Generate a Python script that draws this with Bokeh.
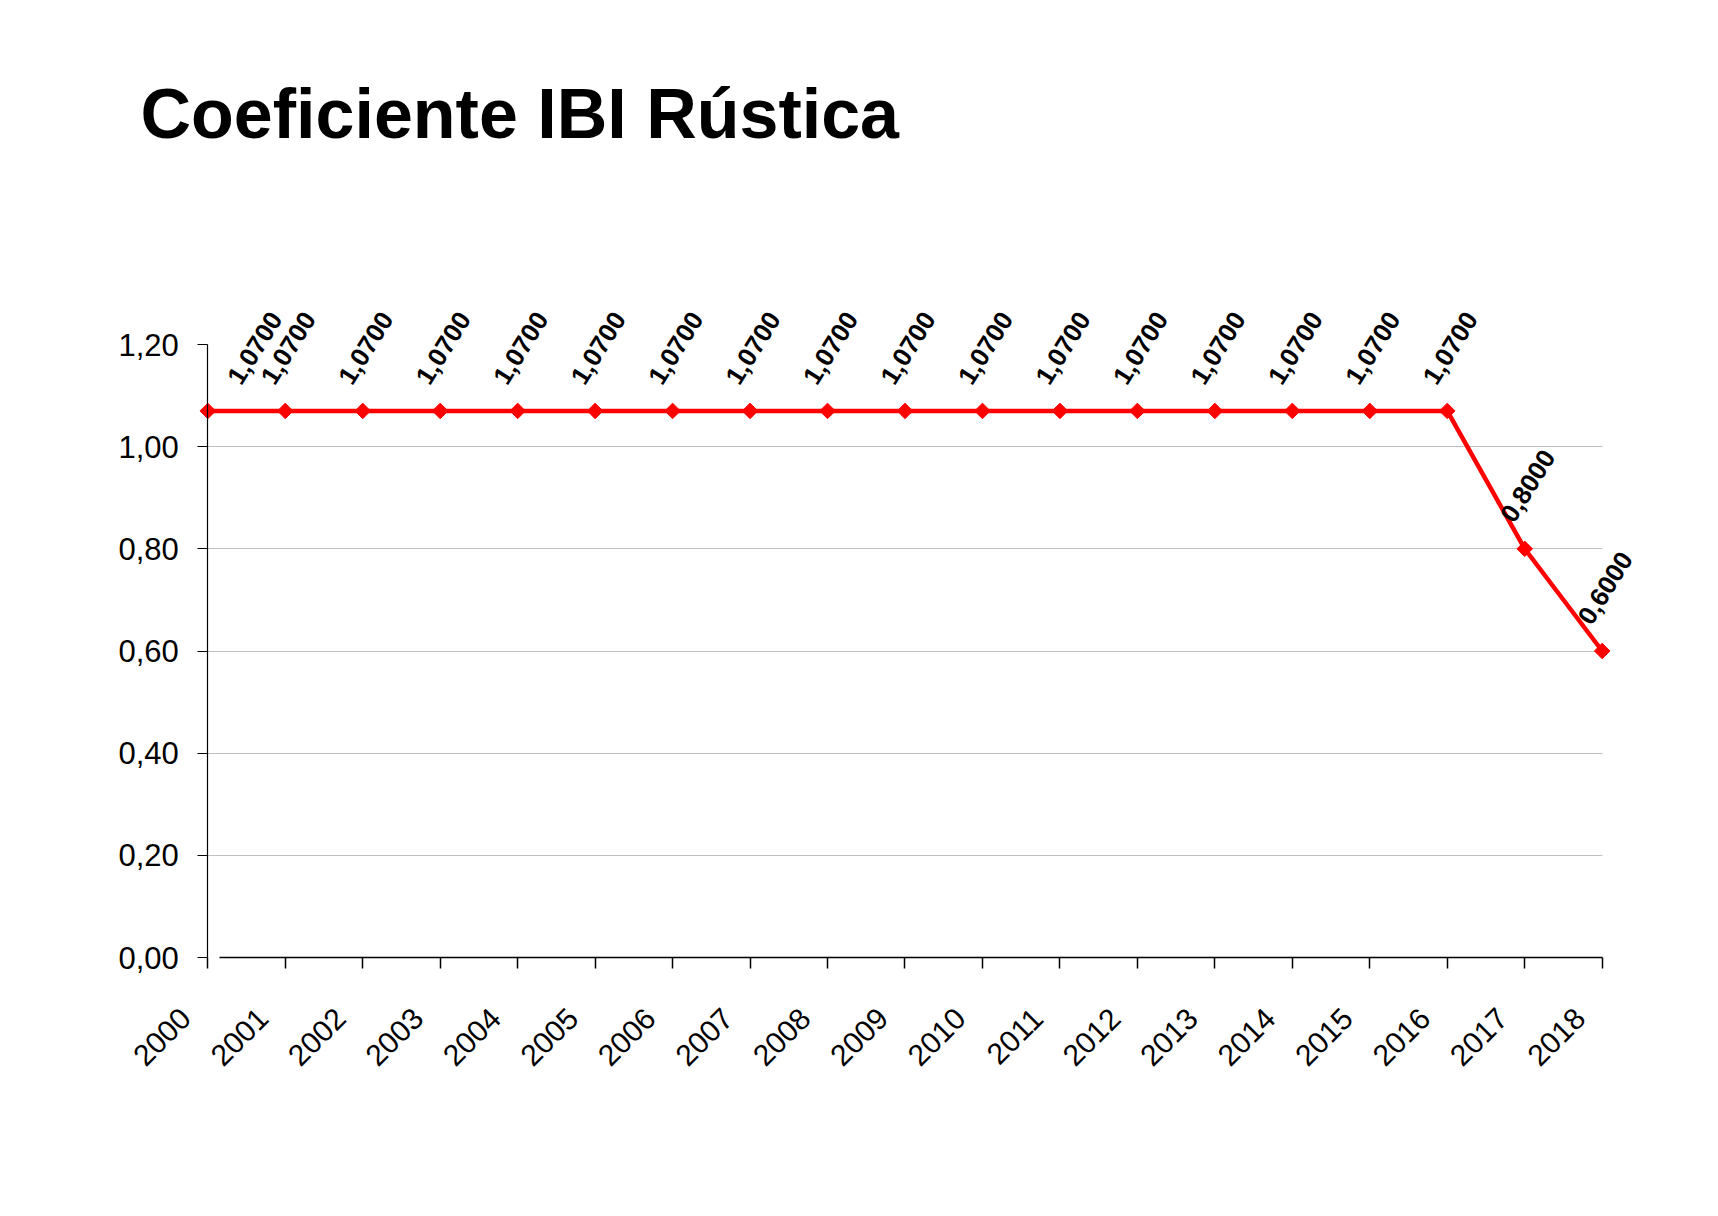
import math
from bokeh.plotting import figure
from bokeh.models import (ColumnDataSource, FixedTicker, LabelSet, Range1d,
                          CustomJSTickFormatter)
from bokeh.embed import file_html
from bokeh.resources import INLINE
from bokeh.core.properties import value

# ---- data ----
years = [2000, 2001, 2002, 2003, 2004, 2005, 2006, 2007, 2008, 2009,
         2010, 2011, 2012, 2013, 2014, 2015, 2016, 2017, 2018]
coef = [1.07, 1.07, 1.07, 1.07, 1.07, 1.07, 1.07, 1.07, 1.07, 1.07,
        1.07, 1.07, 1.07, 1.07, 1.07, 1.07, 1.07, 0.80, 0.60]
year_labels = ["2000", "2001", "2002", "2003", "2004", "2005", "2006", "2007",
               "2008", "2009", "2010", "2011", "2012", "2013", "2014", "2015",
               "2016", "2017", "2018"]
y_ticks = [0.0, 0.2, 0.4, 0.6, 0.8, 1.0, 1.2]
grid_ticks = [0.2, 0.4, 0.6, 0.8, 1.0]
title_text = "Coeficiente IBI Rústica"

labels = [f"{v:.4f}".replace(".", ",") for v in coef]
x_off = [47 if i == 0 else 3 for i in range(len(years))]
y_off = [63 for _ in years]

src = ColumnDataSource(dict(x=years, y=coef, label=labels, xo=x_off, yo=y_off))
tick_src = ColumnDataSource(dict(x=years, y=[y_ticks[0]] * len(years), label=year_labels))

FONT = "Liberation Sans"

p = figure(width=1716, height=1214,
           x_range=Range1d(1998.615, 2019.269), y_range=Range1d(-0.2995, 1.4819),
           output_backend="svg", toolbar_location=None,
           min_border_left=100, min_border_right=16,
           min_border_top=200, min_border_bottom=104)
p.outline_line_color = None
p.background_fill_color = "white"
p.border_fill_color = "white"

# title
p.title.text = title_text
p.title.text_font = FONT
p.title.text_font_style = "bold"
p.title.text_font_size = "70px"
p.title.text_color = "black"
p.title.align = "left"
p.title.offset = 40
p.title.standoff = 96

# x axis (drawn at y = 0)
xa = p.xaxis[0]
xa.fixed_location = y_ticks[0]
xa.ticker = FixedTicker(ticks=years)
xa.bounds = (years[0] + 0.15, years[-1])
xa.major_label_overrides = {y: "" for y in years}
xa.major_tick_out = 11
xa.major_tick_in = 0
xa.minor_tick_out = 0
xa.minor_tick_in = 0
xa.axis_line_color = "black"
xa.axis_line_width = 1.5
xa.major_tick_line_color = "black"
xa.major_tick_line_width = 1.5

# y axis (drawn at first year)
ya = p.yaxis[0]
ya.fixed_location = years[0]
ya.ticker = FixedTicker(ticks=y_ticks)
ya.bounds = (y_ticks[0], y_ticks[-1])
ya.formatter = CustomJSTickFormatter(code="return tick.toFixed(2).replace('.', ',');")
ya.major_label_text_font = FONT
ya.major_label_text_font_size = "31px"
ya.major_label_text_color = "black"
ya.major_tick_out = 10
ya.major_tick_in = 0
ya.minor_tick_out = 0
ya.minor_tick_in = 0
ya.axis_line_color = "black"
ya.axis_line_width = 1.2
ya.major_tick_line_color = "black"
ya.major_tick_line_width = 1.2
ya.major_label_standoff = 19

# grid
p.xgrid.visible = False
yg = p.ygrid[0]
yg.ticker = FixedTicker(ticks=grid_ticks)
yg.grid_line_color = "#c0c0c0"
yg.grid_line_width = 1
try:
    yg.cross_bounds = (years[0], years[-1])
except Exception:
    yg.visible = False
    p.segment(x0=[years[0]] * len(grid_ticks), x1=[years[-1]] * len(grid_ticks),
              y0=grid_ticks, y1=grid_ticks, line_color="#c0c0c0", line_width=1,
              level="underlay")

# series
p.line("x", "y", source=src, line_color="#ff0000", line_width=4.5)
p.scatter("x", "y", source=src, marker="square", size=11, angle=math.pi / 4,
          fill_color="#ff0000", line_color="#ff0000", line_width=1)

# value labels
lbl = LabelSet(x="x", y="y", text="label", source=src,
               x_offset="xo", y_offset="yo",
               angle=math.radians(58),
               text_align="center", text_baseline="middle",
               text_font=value(FONT), text_font_style="bold",
               text_font_size="26px", text_color="black")
p.add_layout(lbl)

# category (year) labels under the x axis, rotated 45 degrees
ticklbl = LabelSet(x="x", y="y", text="label", source=tick_src,
                   x_offset=-22, y_offset=-56,
                   angle=math.pi / 4,
                   text_align="right", text_baseline="middle",
                   text_font=value(FONT), text_font_size="30px",
                   text_color="black")
p.add_layout(ticklbl)

open("out.html", "w").write(file_html(p, INLINE))
